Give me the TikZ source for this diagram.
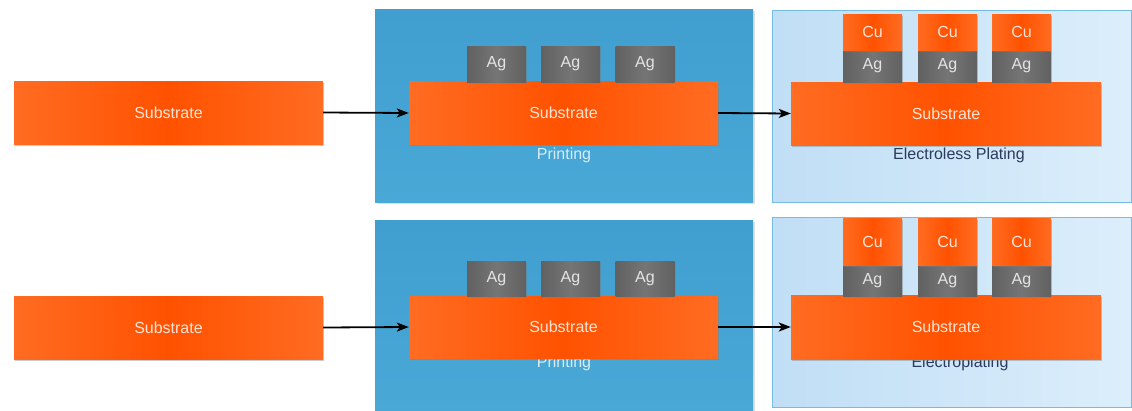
\documentclass[tikz,border=0pt]{standalone}
\usepackage{fontspec}
\setmainfont{Liberation Sans}
\usetikzlibrary{shadows,arrows.meta}

\definecolor{orA}{HTML}{FF6C22}
\definecolor{orB}{HTML}{FF5200}
\definecolor{agA}{HTML}{616161}
\definecolor{agB}{HTML}{757575}
\definecolor{panelDark}{HTML}{49A8D6}
\definecolor{panelDarkB}{HTML}{409FCF}
\definecolor{panelLightA}{HTML}{C0DEF5}
\definecolor{panelLightB}{HTML}{DCEEFB}
\definecolor{panelEdge}{HTML}{74BCE2}
\definecolor{warmWhite}{RGB}{255,228,214}
\definecolor{agText}{HTML}{E4E4E4}
\definecolor{navy}{HTML}{2B3B5C}
\definecolor{paleText}{HTML}{D6EDF8}

\tikzset{
  lbl/.style={font=\fontsize{16}{18}\selectfont},
  layer/.style={inner sep=0pt, lbl,
    drop shadow={shadow xshift=1.2pt, shadow yshift=-1.8pt, opacity=0.4}},
  % middle colour must come after left/right, which reset it
  substrate/.style={layer, minimum width=309pt, minimum height=63pt,
    left color=orA, right color=orA, middle color=orB, text=warmWhite},
  silver/.style={layer, minimum width=59pt, left color=agA, right color=agA,
    middle color=agB, text=agText},
  copper/.style={layer, minimum width=59pt, left color=orA, right color=orA,
    middle color=orB, text=warmWhite},
  darkpanel/.style={inner sep=0pt, minimum width=378pt, top color=panelDarkB,
    bottom color=panelDark,
    drop shadow={shadow xshift=1.5pt, shadow yshift=-2pt, opacity=0.25}},
  lightpanel/.style={inner sep=0pt, minimum width=359pt, draw=panelEdge,
    line width=1pt, left color=panelLightA, right color=panelLightB},
  flow/.style={-{Stealth[length=12pt,width=9pt,inset=3pt]}, line width=1.8pt, black},
}

\begin{document}
\begin{tikzpicture}[x=1pt, y=-1pt]
\useasboundingbox (0,0) rectangle (1132,410);

% ---------- process panels ----------
\node[darkpanel, minimum height=193pt] (p1) at (564,105.5) {};
\node[lightpanel, minimum height=192pt] (p2) at (951.5,106) {};
\node[darkpanel, minimum height=192pt] (p3) at (564,316) {};
\node[lightpanel, minimum height=190pt] (p4) at (951.5,312) {};

% ---------- step captions ----------
\node[lbl, text=paleText, anchor=base] (c1) at (564,159) {Printing};
\node[lbl, text=navy, anchor=base] (c2) at (959,159) {Electroless Plating};
\node[lbl, text=paleText, anchor=base] (c3) at (564,367.5) {Printing};
\node[lbl, text=navy, anchor=base] (c4) at (960,367.5) {Electroplating};

% ---------- top row: printing then electroless plating ----------
\node[substrate] (a0) at (168.5,112.5) {Substrate};
\node[substrate] (a1) at (563.5,113) {Substrate};
\node[substrate, minimum width=310pt] (a2) at (946,113.5) {Substrate};

\node[silver, minimum height=36pt] (a1g1) at (496.5,64) {Ag};
\node[silver, minimum height=36pt] (a1g2) at (570.5,64) {Ag};
\node[silver, minimum height=36pt] (a1g3) at (645,64) {Ag};

\node[silver, minimum height=32pt] (a2g1) at (872.5,66) {Ag};
\node[silver, minimum height=32pt] (a2g2) at (947.5,66) {Ag};
\node[silver, minimum height=32pt] (a2g3) at (1021.5,66) {Ag};
\node[copper, minimum height=36pt] (a2c1) at (872.5,32) {Cu};
\node[copper, minimum height=36pt] (a2c2) at (947.5,32) {Cu};
\node[copper, minimum height=36pt] (a2c3) at (1021.5,32) {Cu};

% ---------- bottom row: printing then electroplating ----------
\node[substrate] (b0) at (168.5,327.5) {Substrate};
\node[substrate, minimum height=62pt] (b1) at (563.5,327) {Substrate};
\node[substrate, minimum width=310pt, minimum height=64pt] (b2) at (946,327) {Substrate};

\node[silver, minimum height=35pt] (b1g1) at (496.5,278.5) {Ag};
\node[silver, minimum height=35pt] (b1g2) at (570.5,278.5) {Ag};
\node[silver, minimum height=35pt] (b1g3) at (645,278.5) {Ag};

\node[silver, minimum height=31pt] (b2g1) at (872.5,280.5) {Ag};
\node[silver, minimum height=31pt] (b2g2) at (947.5,280.5) {Ag};
\node[silver, minimum height=31pt] (b2g3) at (1021.5,280.5) {Ag};
\node[copper, minimum height=47pt] (b2c1) at (872.5,241.5) {Cu};
\node[copper, minimum height=47pt] (b2c2) at (947.5,241.5) {Cu};
\node[copper, minimum height=47pt] (b2c3) at (1021.5,241.5) {Cu};

% ---------- process flow ----------
\draw[flow] (a0.east) -- (a1.west);
\draw[flow] (a1.east) -- (a2.west);
\draw[flow] (b0.east) -- (b1.west);
\draw[flow] (b1.east) -- (b2.west);
\end{tikzpicture}
\end{document}
